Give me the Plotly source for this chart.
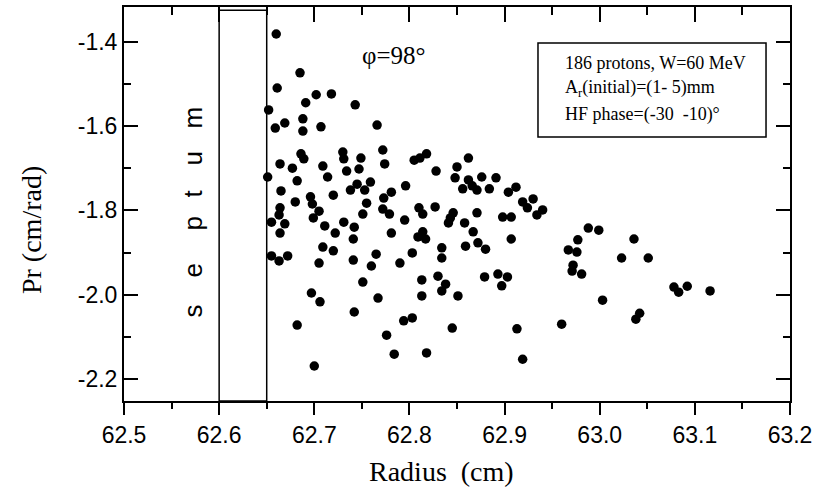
import plotly.graph_objects as go

# ---- data ----
radius_cm = [
    62.660, 62.685, 62.661, 62.702, 62.718, 62.691, 62.743, 62.652, 62.688, 62.669,
    62.659, 62.688, 62.707, 62.766, 62.772, 62.686, 62.689, 62.730, 62.731, 62.749,
    62.774, 62.664, 62.677, 62.709, 62.734, 62.747, 62.805, 62.811, 62.818, 62.651,
    62.682, 62.714, 62.738, 62.745, 62.753, 62.759, 62.796, 62.665, 62.696, 62.720,
    62.781, 62.773, 62.680, 62.698, 62.705, 62.699, 62.755, 62.664, 62.663, 62.772,
    62.779, 62.751, 62.655, 62.669, 62.731, 62.711, 62.742, 62.795, 62.664, 62.722,
    62.781, 62.741, 62.709, 62.720, 62.655, 62.663, 62.672, 62.765, 62.803, 62.705,
    62.741, 62.760, 62.790, 62.751, 62.697, 62.706, 62.742, 62.767, 62.682, 62.794,
    62.803, 62.776, 62.784, 62.700,
    62.862, 62.828, 62.850, 62.848, 62.862, 62.856, 62.866, 62.871, 62.876, 62.891,
    62.884, 62.912, 62.904, 62.919, 62.930, 62.924, 62.940, 62.934, 62.810, 62.814,
    62.827, 62.846, 62.843, 62.841, 62.871, 62.898, 62.907, 62.858, 62.814, 62.809,
    62.817, 62.867, 62.907, 62.834, 62.834, 62.859, 62.872, 62.880, 62.813, 62.830,
    62.838, 62.834, 62.813, 62.851, 62.879, 62.893, 62.903, 62.897, 62.845, 62.913,
    62.960, 62.818, 62.919,
    62.988, 62.999, 62.977, 62.967, 62.976, 63.036, 63.023, 63.051, 62.972, 62.971,
    62.981, 63.003, 63.078, 63.083, 63.092, 63.116, 63.042, 63.038,
]
pr_cm_rad = [
    -1.382, -1.474, -1.510, -1.526, -1.524, -1.545, -1.550, -1.562, -1.583, -1.593,
    -1.605, -1.612, -1.602, -1.598, -1.657, -1.666, -1.678, -1.662, -1.678, -1.676,
    -1.690, -1.690, -1.700, -1.695, -1.707, -1.702, -1.681, -1.676, -1.666, -1.721,
    -1.730, -1.721, -1.752, -1.738, -1.752, -1.733, -1.742, -1.754, -1.768, -1.764,
    -1.757, -1.771, -1.780, -1.785, -1.802, -1.818, -1.783, -1.794, -1.811, -1.797,
    -1.809, -1.809, -1.828, -1.832, -1.828, -1.837, -1.840, -1.823, -1.854, -1.854,
    -1.854, -1.868, -1.887, -1.896, -1.908, -1.920, -1.908, -1.904, -1.901, -1.925,
    -1.918, -1.932, -1.925, -1.970, -1.996, -2.017, -2.041, -2.008, -2.072, -2.062,
    -2.055, -2.096, -2.141, -2.169,
    -1.676, -1.707, -1.697, -1.723, -1.728, -1.749, -1.742, -1.752, -1.721, -1.723,
    -1.749, -1.745, -1.757, -1.780, -1.773, -1.794, -1.799, -1.811, -1.794, -1.809,
    -1.792, -1.806, -1.818, -1.830, -1.806, -1.816, -1.816, -1.830, -1.851, -1.863,
    -1.868, -1.851, -1.868, -1.889, -1.913, -1.885, -1.877, -1.892, -1.965, -1.956,
    -1.975, -1.991, -2.003, -2.003, -1.958, -1.951, -1.958, -1.979, -2.079, -2.081,
    -2.070, -2.138, -2.153,
    -1.842, -1.847, -1.870, -1.894, -1.899, -1.868, -1.913, -1.913, -1.930, -1.944,
    -1.951, -2.013, -1.982, -1.994, -1.980, -1.991, -2.044, -2.058,
]

x_tick_vals = [62.5, 62.6, 62.7, 62.8, 62.9, 63.0, 63.1, 63.2]
x_tick_text = ["62.5", "62.6", "62.7", "62.8", "62.9", "63.0", "63.1", "63.2"]
y_tick_vals = [-1.4, -1.6, -1.8, -2.0, -2.2]
y_tick_text = ["-1.4", "-1.6", "-1.8", "-2.0", "-2.2"]

septum_edges = [62.6, 62.65]
septum_letters = ["s", "e", "p", "t", "u", "m"]
info_lines = [
    "186 protons, W=60 MeV",
    "A<sub>r</sub>(initial)=(1- 5)mm",
    "HF phase=(-30\u00a0\u00a0-10)\u00b0",
]
phi_label = "\u03c6=98\u00b0"

SANS = "Liberation Sans, Arial, sans-serif"
SERIF = "Liberation Serif, Times New Roman, serif"

fig = go.Figure()
fig.add_trace(go.Scatter(
    x=radius_cm, y=pr_cm_rad, mode="markers",
    marker=dict(color="black", size=9.5, line=dict(width=0)),
    showlegend=False, hoverinfo="x+y",
))
# invisible copy bound to the top axis so that it is drawn
fig.add_trace(go.Scatter(x=radius_cm, y=pr_cm_rad, xaxis="x2", mode="markers",
                         marker=dict(opacity=0), showlegend=False, hoverinfo="skip"))

axis_common = dict(showgrid=False, zeroline=False, showline=True,
                   linecolor="black", linewidth=2, tickcolor="black", tickwidth=2)

fig.update_layout(
    width=836, height=490,
    margin=dict(l=124, r=46, t=7, b=89),
    paper_bgcolor="white", plot_bgcolor="white",
    xaxis=dict(range=[62.5, 63.2], tickvals=x_tick_vals, ticktext=x_tick_text,
               ticks="outside", ticklen=12,
               minor=dict(dtick=0.05, tick0=62.5, ticks="outside", ticklen=6,
                          tickwidth=2, tickcolor="black"),
               tickfont=dict(family=SANS, size=23, color="black"),
               **axis_common),
    xaxis2=dict(range=[62.5, 63.2], overlaying="x", side="top", anchor="y",
                tickvals=x_tick_vals, ticks="inside", ticklen=15, showticklabels=False,
                minor=dict(dtick=0.05, tick0=62.5, ticks="inside", ticklen=8,
                           tickwidth=2, tickcolor="black"),
                **axis_common),
    yaxis=dict(range=[-2.252, -1.318], tickvals=y_tick_vals, ticktext=y_tick_text,
               ticks="inside", ticklen=14, mirror="ticks",
               minor=dict(dtick=0.1, tick0=-2.2, ticks="inside", ticklen=7,
                          tickwidth=2, tickcolor="black"),
               tickfont=dict(family=SANS, size=23, color="black"),
               **axis_common),
)

# septum rectangle
fig.add_shape(type="rect", xref="x", yref="paper",
              x0=septum_edges[0], x1=septum_edges[1], y0=0, y1=0.992,
              line=dict(color="black", width=1.5), fillcolor="rgba(0,0,0,0)")

# septum letters (rotated, reading bottom to top)
letter_y = [0.2284, 0.3325, 0.4518, 0.5279, 0.6168, 0.7208]
for ch, yy in zip(septum_letters, letter_y):
    fig.add_annotation(text=ch, x=62.573, xref="x", y=yy, yref="paper",
                       textangle=-90, showarrow=False,
                       font=dict(family=SANS, size=26, color="black"),
                       xanchor="center", yanchor="middle")

# info box
fig.add_shape(type="rect", xref="paper", yref="paper",
              x0=0.6216, x1=0.964, y0=0.670, y1=0.9086,
              line=dict(color="black", width=1.5), fillcolor="white")
for line, yy in zip(info_lines, [0.857, 0.794, 0.728]):
    fig.add_annotation(text=line, x=0.659, xref="paper", y=yy, yref="paper",
                       showarrow=False, xanchor="left", yanchor="middle",
                       font=dict(family=SERIF, size=18, color="black"))

# phi label
fig.add_annotation(text=phi_label, x=0.405, xref="paper", y=0.876, yref="paper",
                   showarrow=False, xanchor="center", yanchor="middle",
                   font=dict(family=SERIF, size=25, color="black"))

# axis titles
fig.add_annotation(text="Radius\u00a0\u00a0(cm)", x=0.476, xref="paper", y=-0.180,
                   yref="paper", showarrow=False, xanchor="center", yanchor="middle",
                   font=dict(family=SERIF, size=28, color="black"))
fig.add_annotation(text="Pr (cm/rad)", x=-0.1396, xref="paper", y=0.434,
                   yref="paper", showarrow=False, textangle=-90,
                   xanchor="center", yanchor="middle",
                   font=dict(family=SERIF, size=28, color="black"))

fig.write_html("out.html", config={"displayModeBar": False},
               post_script="document.body.style.margin='0';document.body.style.padding='0';")
